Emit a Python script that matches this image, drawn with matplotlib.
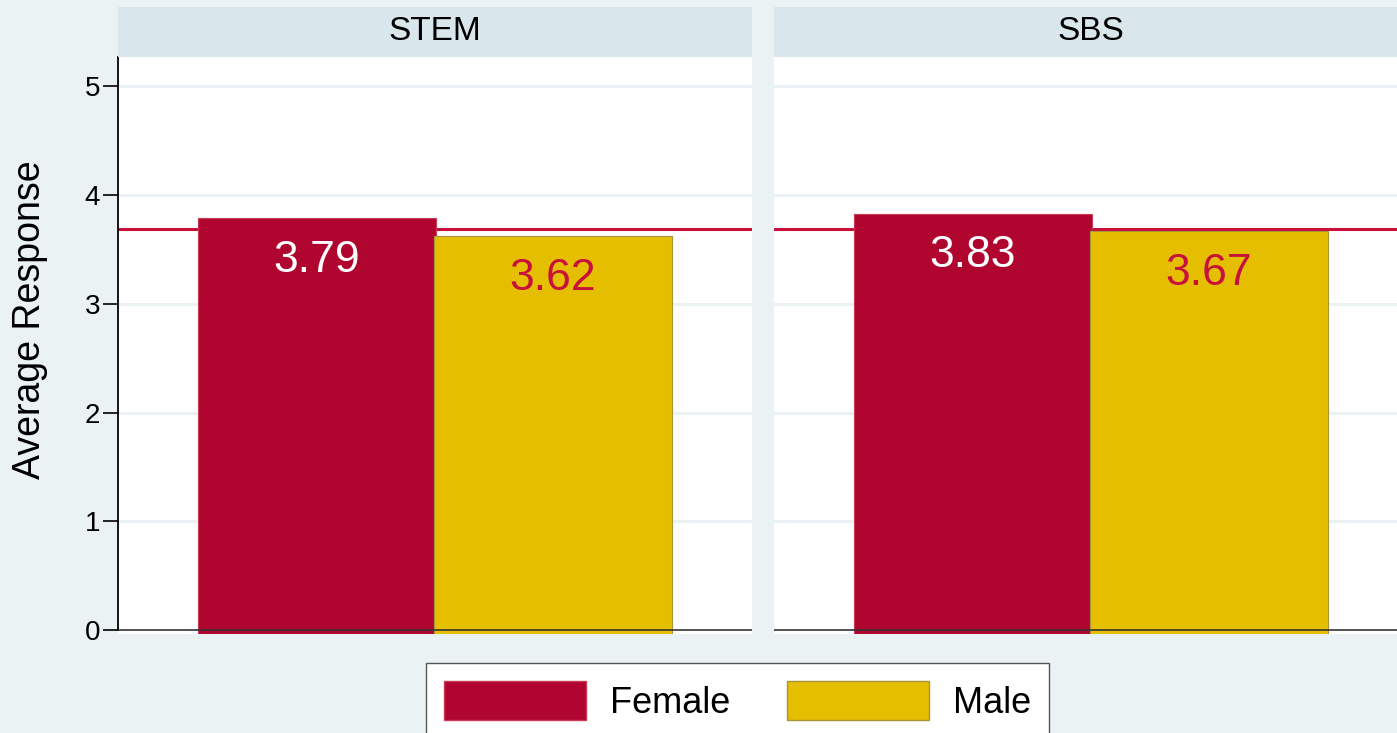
import matplotlib
matplotlib.use("Agg")
import matplotlib.pyplot as plt
from matplotlib.patches import Patch

plt.rcParams['font.family'] = ['Liberation Sans', 'DejaVu Sans']

# ---- data ----
panels = ["STEM", "SBS"]
groups = ["Female", "Male"]
female_vals = [3.79, 3.83]
male_vals = [3.62, 3.67]
reference_line = 3.69
y_ticks = [0, 1, 2, 3, 4, 5]

# ---- style ----
BG = "#EAF2F3"
STRIP = "#D9E6EB"
FEMALE = "#B0052F"
MALE = "#E6BE00"
RED_LINE = "#C8103A"
LABEL_RED = "#C8103C"

W, H = 1397, 733
fig = plt.figure(figsize=(W / 100, H / 100), dpi=100, facecolor=BG)

ax_w = 634 / W
ax_bottom = 1 - 634 / H
ax_h = (634 - 57) / H
lefts = [118 / W, 774 / W]
ylim = (-0.037, 5.27)

for i, name in enumerate(panels):
    ax = fig.add_axes([lefts[i], ax_bottom, ax_w, ax_h])
    ax.set_facecolor("white")
    vals = [female_vals[i], male_vals[i]]
    colors = [FEMALE, MALE]
    edges = ["#C83A55", "#A8923A"]
    for gy in y_ticks[1:]:
        ax.axhline(gy, color=BG, lw=2.2, zorder=1)
    ax.axhline(reference_line, color=RED_LINE, lw=2.2, zorder=2)
    ax.bar([0, 1], [v - ylim[0] for v in vals], bottom=ylim[0],
           width=1.01, color=colors, edgecolor=edges, linewidth=0.8, zorder=3)
    ax.axhline(0, color="#333333", lw=1.2, zorder=5)
    txt_colors = ["white", LABEL_RED]
    for x, v, c in zip([0, 1], vals, txt_colors):
        ax.annotate(f"{v:.2f}", xy=(x, v), xytext=(0, -30.5), textcoords="offset points",
                    ha="center", va="center", fontsize=32, color=c, zorder=6)
    ax.set_xlim(-0.843, 1.843)
    ax.set_ylim(*ylim)
    ax.set_xticks([])
    for s in ["top", "right", "bottom"]:
        ax.spines[s].set_visible(False)
    if i == 0:
        ax.spines["left"].set_bounds(0, ylim[1])
        ax.spines["left"].set_linewidth(1.3)
        ax.set_yticks(y_ticks)
        ax.set_yticklabels([str(t) for t in y_ticks])
        ax.tick_params(axis="y", length=11, width=1.2, pad=2, labelsize=20)
    else:
        ax.spines["left"].set_visible(False)
        ax.set_yticks([])
    # strip
    sax = fig.add_axes([lefts[i], 1 - 57 / H, ax_w, 50 / H])
    sax.set_facecolor(STRIP)
    sax.set_xticks([]); sax.set_yticks([])
    for s in sax.spines.values():
        s.set_visible(False)
    sax.text(0.5, 0.5, name, ha="center", va="center", fontsize=24, transform=sax.transAxes)

fig.text(30 / W, 1 - 320 / H, "Average Response", rotation=90, ha="center", va="center", fontsize=27)

handles = [Patch(facecolor=FEMALE, edgecolor="#C83A55", label=groups[0]),
           Patch(facecolor=MALE, edgecolor="#A8923A", label=groups[1])]
leg = fig.legend(handles=handles, loc="upper center", bbox_to_anchor=(737.5 / W, 1 - 663 / H),
                 ncol=2, fontsize=26, frameon=True, fancybox=False, edgecolor="#555555",
                 facecolor="white", framealpha=1.0,
                 handlelength=3.94, handleheight=1.3, handletextpad=0.67, columnspacing=1.55,
                 borderpad=0.5, borderaxespad=0)
leg.get_frame().set_linewidth(1.0)

fig.savefig("out.png", dpi=100, facecolor=BG)
